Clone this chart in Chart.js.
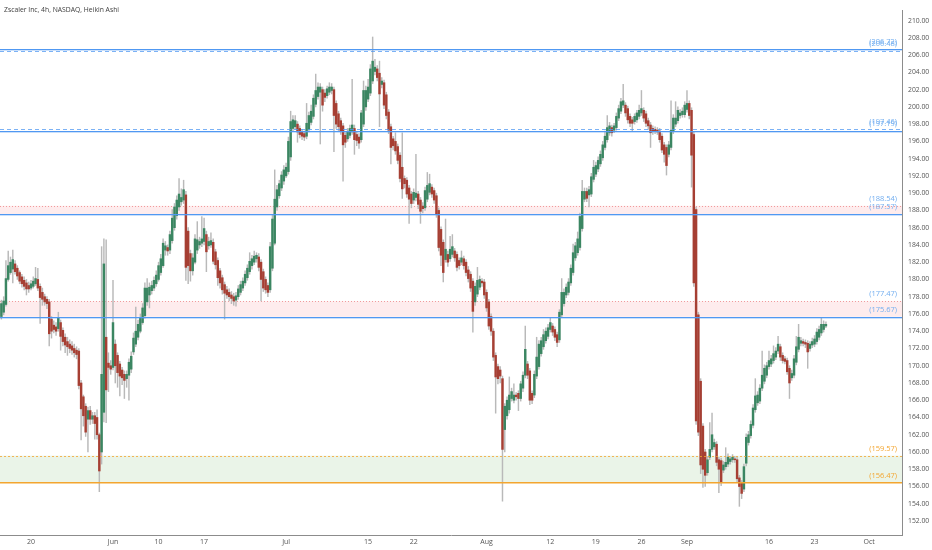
<!DOCTYPE html>
<html>
<head>
<meta charset="utf-8">
<title>Zscaler Inc, 4h, NASDAQ, Heikin Ashi</title>
<script src="https://cdn.jsdelivr.net/npm/chart.js@4.4.1/dist/chart.umd.min.js"></script>
<style>
  html, body { margin: 0; padding: 0; background: #fff; }
  #wrap { width: 932px; height: 550px; }
</style>
</head>
<body>
<div id="wrap"><canvas id="haChart" width="932" height="550"></canvas></div>
<script>
// Heikin Ashi 4h bars (4 bars per session incl. extended hours), oldest first
const opens = [
  175.7,176.2,177.1,180.0,180.8,181.2,181.8,181.3,180.8,180.3,
  179.9,179.6,179.3,179.0,179.2,179.5,180.0,179.2,178.5,178.0,
  177.7,177.4,175.4,174.7,174.5,174.3,175.0,174.1,173.3,172.8,
  172.5,172.3,172.0,171.8,171.7,168.0,166.4,165.3,163.8,164.8,
  163.8,164.2,164.0,162.0,160.0,164.6,173.3,170.3,170.0,169.8,
  172.5,171.2,170.2,169.5,169.0,168.5,168.9,169.6,171.6,172.5,
  173.3,174.0,175.0,175.8,177.4,178.2,178.7,179.0,179.5,180.0,
  180.8,181.6,183.4,183.7,183.4,184.5,186.0,187.4,188.4,189.0,
  189.2,189.8,185.6,183.0,181.0,182.0,183.4,184.0,184.2,184.4,
  185.2,183.9,184.0,184.3,183.2,182.2,181.0,180.2,179.4,178.8,
  178.5,178.2,178.0,177.6,178.0,178.5,179.0,179.6,180.2,180.9,
  181.6,182.0,182.4,182.6,182.0,180.9,180.0,179.3,178.8,181.3,
  184.2,188.4,189.7,190.6,191.4,192.0,192.5,194.2,197.5,197.7,
  198.0,197.5,197.1,196.9,196.6,197.4,198.2,198.9,200.3,201.2,
  201.7,202.0,201.6,201.3,201.7,201.9,202.0,200.4,199.2,198.4,
  197.8,196.7,196.3,196.7,197.1,197.5,196.8,196.5,196.2,198.0,
  200.0,200.9,201.6,203.0,204.1,204.4,203.9,202.6,202.8,201.4,
  199.4,197.7,196.3,196.0,195.4,194.4,193.0,191.7,191.5,190.6,
  189.9,189.2,189.5,189.9,189.2,188.5,188.3,189.3,190.1,190.7,
  190.3,189.7,188.0,185.8,184.3,182.3,182.9,182.4,182.9,183.3,
  182.9,182.2,182.0,182.4,182.0,181.1,180.6,179.8,177.4,178.3,
  179.1,179.8,179.7,178.5,177.4,175.7,174.0,171.2,169.9,169.5,
  168.5,162.6,164.2,164.9,166.2,166.0,166.6,166.8,166.2,167.4,
  168.9,170.2,169.4,166.8,166.6,168.8,169.9,171.4,172.2,172.9,
  173.4,174.2,174.6,174.2,173.6,173.0,175.9,177.2,178.2,178.5,
  179.6,180.8,182.5,183.1,183.7,185.9,189.3,190.2,189.8,189.9,
  191.6,192.2,192.8,193.4,194.1,195.3,196.2,197.0,197.6,197.3,
  197.6,198.7,199.5,200.2,200.2,199.8,198.9,198.5,198.3,198.5,
  198.9,199.3,199.6,199.2,198.4,197.9,197.5,197.4,197.3,197.2,
  196.6,195.6,195.3,194.5,195.3,197.2,198.0,198.4,199.0,199.1,
  199.1,199.7,200.4,199.6,196.8,188.1,175.9,168.2,163.0,160.0,
  157.6,159.4,160.3,160.6,160.9,159.1,159.0,157.9,158.3,158.6,
  158.9,159.1,159.2,159.1,157.0,156.4,155.7,158.7,161.1,161.9,
  163.1,164.9,165.7,165.9,167.4,168.2,168.9,169.9,170.2,170.6,
  171.0,171.7,172.2,171.2,170.8,170.6,169.7,168.6,168.9,170.4,
  171.9,172.6,172.8,172.7,172.6,172.0,172.4,172.5,172.8,173.3,
  173.8,174.2,174.6
];
const highs = [
  177.6,178.0,182.2,183.3,182.6,183.4,182.2,181.6,181.0,180.6,
  180.3,180.0,179.7,179.9,180.3,181.4,181.3,179.5,179.0,178.3,
  178.0,177.7,175.7,175.2,175.0,176.2,175.3,174.4,173.7,173.3,
  173.0,172.8,172.5,172.2,172.0,168.3,166.6,165.6,165.2,165.3,
  164.6,164.6,164.9,162.2,183.8,184.7,184.6,171.5,170.6,179.9,
  173.0,171.5,170.5,169.8,169.4,169.4,170.8,171.6,173.8,176.8,
  175.3,176.0,177.2,179.6,180.1,179.6,179.8,180.3,181.0,182.0,
  182.9,184.7,184.4,184.0,185.6,188.1,188.8,189.7,191.7,190.5,
  191.5,190.2,186.0,183.4,183.0,185.2,186.7,184.9,187.3,187.1,
  185.6,184.9,185.4,184.7,183.5,182.5,181.3,180.5,179.7,179.2,
  178.9,178.6,178.4,178.5,179.3,179.8,180.2,181.0,181.7,183.1,
  182.8,183.3,183.1,183.0,182.3,181.2,180.3,179.6,184.3,187.5,
  192.7,190.9,191.5,192.5,193.2,193.5,196.5,199.5,199.0,199.0,
  198.3,197.8,197.4,197.2,200.4,199.4,200.2,201.4,203.8,202.8,
  202.7,202.3,202.0,202.4,202.8,202.7,202.3,200.7,199.5,198.7,
  198.1,197.0,197.5,197.9,203.2,197.9,197.1,196.9,199.6,203.0,
  202.4,203.2,204.9,208.1,205.5,204.8,205.3,203.4,203.1,201.7,
  199.7,198.0,196.6,197.0,195.7,194.7,197.0,192.0,191.8,190.9,
  190.2,190.5,194.5,190.2,189.5,188.9,190.7,192.4,192.2,191.0,
  190.6,190.0,188.3,186.1,184.6,187.0,183.3,185.0,185.2,183.6,
  183.2,182.5,183.3,182.7,182.3,181.5,180.9,180.1,179.6,181.4,
  180.4,180.1,180.0,178.8,177.7,176.0,174.3,171.5,170.2,169.9,
  168.8,165.6,166.4,168.7,167.4,167.9,166.9,167.1,168.2,169.3,
  174.6,170.5,169.7,167.1,169.4,173.3,172.9,173.3,174.2,174.4,
  174.8,175.6,174.9,174.5,173.9,176.5,180.1,178.9,179.5,180.1,
  181.7,184.1,184.3,185.5,187.7,191.5,190.6,190.6,190.8,192.3,
  193.8,193.6,194.2,194.9,196.0,197.2,199.0,198.2,197.9,198.1,
  199.3,200.2,201.0,202.6,200.5,200.1,199.2,198.8,199.2,199.6,
  200.2,201.9,199.9,199.5,198.7,198.2,197.8,197.7,197.6,197.5,
  196.9,195.9,195.6,196.0,200.7,199.1,200.6,200.0,199.7,199.9,
  200.6,201.9,200.7,199.9,197.1,188.4,176.2,168.5,163.3,160.3,
  159.5,163.4,164.5,161.5,161.2,159.4,159.3,158.9,160.5,159.8,
  159.5,159.7,159.5,159.4,157.3,156.7,158.6,162.1,162.4,163.6,
  165.5,168.5,167.0,167.8,171.7,170.1,170.4,171.7,171.2,172.3,
  172.1,173.4,172.5,171.5,171.1,170.9,170.0,169.5,171.2,173.4,
  174.8,173.3,173.1,173.0,172.9,172.8,173.2,173.5,174.3,174.6,
  175.6,175.2,175.1
];
const lows = [
  175.4,175.9,176.9,179.8,180.6,179.6,180.6,180.0,179.5,179.1,
  178.8,178.2,178.5,178.8,179.0,179.3,178.7,174.9,177.0,177.0,
  176.6,172.3,173.2,173.8,173.5,174.0,171.8,172.3,171.5,171.2,
  171.5,171.3,171.0,170.8,167.3,161.4,163.0,161.8,160.0,163.2,
  163.3,161.5,161.5,155.4,158.6,163.5,163.4,167.0,169.0,169.5,
  168.0,167.5,166.5,167.8,166.2,167.5,166.0,169.2,171.3,172.2,
  173.0,173.8,174.8,175.5,177.0,176.7,178.3,178.7,179.2,179.8,
  180.5,181.4,182.8,182.8,183.0,184.2,185.7,187.0,188.0,188.6,
  188.8,179.9,179.5,179.8,180.5,181.8,183.0,183.6,183.8,184.0,
  180.9,183.5,183.7,181.8,181.2,179.3,179.0,178.3,175.4,177.8,
  177.5,177.2,177.0,176.9,177.7,178.2,178.7,179.3,179.9,180.6,
  181.2,181.7,182.0,181.0,177.5,178.6,178.4,178.0,178.5,181.0,
  184.0,188.0,189.4,190.3,191.0,191.8,192.2,193.8,197.2,197.4,
  195.9,196.4,196.2,196.1,196.3,197.1,197.9,198.6,200.0,200.9,
  195.7,199.5,200.6,201.0,201.4,201.5,194.8,197.5,197.2,196.8,
  191.4,195.3,196.0,196.4,196.8,194.5,195.5,195.2,195.9,197.7,
  199.6,200.6,201.3,202.7,203.7,203.0,197.7,202.2,199.8,198.6,
  196.9,193.4,195.0,194.5,193.4,191.3,189.4,190.6,189.5,186.5,
  188.3,188.8,189.1,188.2,186.5,187.7,188.0,189.0,189.8,189.5,
  188.8,187.2,183.3,181.6,179.7,182.0,181.5,182.1,182.6,182.1,
  181.0,181.2,181.7,181.2,180.4,179.7,178.6,173.9,177.0,178.0,
  178.8,179.2,177.8,176.3,174.2,173.5,170.6,164.5,167.9,168.0,
  154.3,160.0,163.8,164.5,165.9,165.7,166.0,164.8,165.9,167.0,
  168.6,168.5,165.5,165.6,166.3,168.5,169.6,171.1,171.9,172.6,
  173.1,173.9,173.5,172.9,172.2,172.7,175.6,176.9,177.9,178.2,
  179.3,180.5,182.2,182.8,183.4,185.6,189.0,189.0,188.4,189.6,
  191.3,191.9,192.5,193.1,193.8,195.0,195.9,196.7,196.6,197.0,
  197.3,198.4,199.2,199.9,198.9,198.1,197.7,197.2,198.0,198.2,
  198.6,199.0,198.3,197.7,197.4,195.3,196.8,196.9,196.8,195.9,
  194.7,193.6,192.1,194.2,195.0,196.9,197.7,198.1,198.7,198.8,
  198.8,199.4,198.6,190.7,179.2,163.2,161.9,157.5,155.9,156.0,
  157.3,159.1,160.0,160.3,158.4,155.3,156.1,157.6,158.0,158.3,
  158.6,158.8,158.8,156.5,153.7,154.6,155.4,158.4,160.8,161.6,
  162.8,164.6,165.4,165.6,167.1,167.9,168.6,169.6,169.9,170.3,
  170.7,171.4,170.6,170.3,170.2,169.0,166.2,168.3,168.6,170.1,
  171.6,172.3,172.3,172.1,169.7,171.7,172.1,172.2,172.5,173.0,
  173.5,173.9,174.4
];
const closes = [
  177.2,177.5,180.1,181.6,182.0,182.3,180.9,180.4,179.8,179.5,
  179.2,178.9,178.9,179.5,179.8,180.1,179.0,177.9,177.7,177.4,
  177.2,173.7,174.0,174.2,174.0,175.5,173.4,172.8,172.4,172.2,
  172.0,171.8,171.5,171.3,167.7,165.0,164.2,162.3,164.8,163.8,
  164.2,163.3,162.0,157.8,169.0,181.8,167.2,169.8,169.6,175.0,
  170.0,169.2,168.8,168.6,168.3,169.0,170.4,171.1,173.2,174.0,
  174.8,175.6,176.7,179.0,179.0,179.1,179.3,179.9,180.5,181.6,
  182.4,184.2,183.9,183.3,185.2,187.1,188.4,189.2,189.9,189.5,
  190.4,181.4,181.6,181.0,182.5,184.7,184.6,184.4,184.7,185.9,
  183.2,184.4,184.5,182.1,181.7,180.2,179.6,178.8,178.4,178.2,
  178.0,177.8,177.5,178.1,178.9,179.4,179.8,180.6,181.3,182.1,
  182.4,182.7,182.8,181.4,180.0,179.0,178.8,178.5,183.8,187.0,
  189.3,190.4,191.1,192.1,192.7,193.0,196.0,198.3,198.5,198.4,
  197.1,196.8,196.6,196.5,198.1,199.0,199.5,201.0,201.9,202.3,
  202.3,200.2,201.1,202.1,202.3,202.3,199.0,198.0,197.7,197.2,
  195.6,195.9,197.1,197.5,197.9,196.2,196.1,195.8,199.3,201.9,
  201.9,202.3,204.4,205.3,204.6,203.4,201.5,203.0,200.2,199.0,
  197.3,195.3,195.5,194.9,193.8,191.7,190.5,191.1,189.9,189.3,
  188.8,190.1,190.0,188.7,187.9,188.2,190.3,190.9,191.1,189.9,
  189.2,187.6,183.7,182.8,180.8,183.5,182.0,183.5,183.8,182.5,
  181.4,181.6,182.5,181.6,180.8,180.1,179.0,176.3,179.2,179.9,
  180.0,179.6,178.2,176.7,174.6,174.0,171.0,168.7,168.5,168.8,
  160.3,165.3,166.0,166.6,167.0,166.6,166.4,166.2,167.9,168.9,
  171.9,168.9,166.0,166.0,169.0,171.0,172.5,172.9,173.6,174.0,
  174.4,175.0,173.9,173.3,172.7,176.2,178.5,178.5,179.1,179.7,
  181.3,183.1,183.9,184.7,187.3,190.2,190.2,189.4,190.4,191.9,
  193.0,193.2,193.8,194.5,195.6,196.6,197.6,197.8,197.0,197.8,
  198.9,199.8,200.6,200.7,199.3,198.5,198.1,198.1,198.9,199.3,
  199.6,199.8,198.7,198.1,197.8,197.0,197.2,197.2,197.1,196.2,
  195.0,194.5,193.2,195.6,197.3,198.7,198.7,199.6,199.3,199.5,
  200.2,200.4,199.0,194.4,179.6,163.6,162.3,158.5,158.0,157.3,
  159.1,160.3,162.0,161.1,158.8,158.0,156.5,158.5,158.8,159.4,
  159.2,159.4,159.1,156.9,156.0,155.2,158.3,161.7,162.0,163.2,
  165.1,166.5,166.6,167.4,168.9,169.7,170.0,170.6,170.8,171.4,
  171.7,172.5,171.0,170.6,170.5,169.3,168.0,169.1,170.8,172.2,
  173.3,172.9,172.6,172.5,171.6,172.5,172.8,173.1,173.9,174.2,
  174.8,174.8,174.8
];

// date labels on the time axis (bar index where the day starts)
const dateTickBars = [13, 49, 69, 89, 125, 161, 181, 213, 241, 261, 281, 301, 337, 357, 381];
const dateTickLabels = ['20', 'Jun', '10', '17', 'Jul', '15', '22', 'Aug', '12', '19', '26', 'Sep', '16', '23', 'Oct'];
const priceTicks = [152, 154, 156, 158, 160, 162, 164, 166, 168, 170, 172, 174, 176, 178, 180,
  182, 184, 186, 188, 190, 192, 194, 196, 198, 200, 202, 204, 206, 208, 210];

// drawn levels
const solidLevels = [206.72, 197.19, 187.57, 175.67];
const dashedLevels = [206.48, 197.46];
const resistanceZones = [[187.57, 188.54], [175.67, 177.47]];
const supportZone = [156.47, 159.57];
const levelLabels = [206.72, 206.48, 197.46, 197.19, 188.54, 187.57, 177.47, 175.67];
const supportLabels = [159.57, 156.47];

const UP = '#3b8662';
const DOWN = '#a63f33';
const WICK = '#b9b9b9';
const BLUE = 'rgb(80, 152, 242)';
const ORANGE = 'rgb(243, 165, 47)';

const bodies = opens.map((o, i) => ({ x: i, y: [Math.min(o, closes[i]), Math.max(o, closes[i])] }));
const wicks = opens.map((o, i) => ({ x: i, y: [lows[i], highs[i]] }));
const bodyColors = opens.map((o, i) => (closes[i] >= o ? UP : DOWN));

// horizontal 1px line drawn as a filled rect, optionally dashed
function hLine(ctx, a, py, color, dash, gap) {
  ctx.fillStyle = color;
  const row = Math.round(py);
  if (!dash) {
    ctx.fillRect(a.left, row, a.right - a.left, 1);
    return;
  }
  for (let x = a.left; x < a.right; x += dash + gap) {
    ctx.fillRect(x, row, Math.min(dash, a.right - x), 1);
  }
}

const levelsPlugin = {
  id: 'levels',
  beforeDatasetsDraw(chart) {
    const { ctx, chartArea: a, scales: { y } } = chart;
    ctx.save();
    // pink resistance zones
    resistanceZones.forEach(([lo, hi]) => {
      ctx.fillStyle = 'rgba(242, 80, 90, 0.11)';
      ctx.fillRect(a.left, y.getPixelForValue(hi), a.right - a.left, y.getPixelForValue(lo) - y.getPixelForValue(hi));
      hLine(ctx, a, y.getPixelForValue(hi), 'rgba(235, 120, 120, 0.7)', 1, 2);
    });
    // green support zone
    const top = y.getPixelForValue(supportZone[1]);
    const bot = y.getPixelForValue(supportZone[0]);
    ctx.fillStyle = 'rgba(90, 170, 80, 0.13)';
    ctx.fillRect(a.left, top, a.right - a.left, bot - top);
    ctx.restore();
  },
  afterDatasetsDraw(chart) {
    const { ctx, chartArea: a, scales: { y } } = chart;
    ctx.save();
    solidLevels.forEach(v => {
      hLine(ctx, a, y.getPixelForValue(v), BLUE);
      hLine(ctx, a, y.getPixelForValue(v) + 1, 'rgba(80, 152, 242, 0.3)');
    });
    dashedLevels.forEach(v => hLine(ctx, a, y.getPixelForValue(v), 'rgba(80, 152, 242, 0.75)', 4, 3));
    // orange support lines
    hLine(ctx, a, y.getPixelForValue(supportZone[1]), 'rgba(243, 165, 47, 0.8)', 2, 2);
    hLine(ctx, a, y.getPixelForValue(supportZone[0]), ORANGE);
    hLine(ctx, a, y.getPixelForValue(supportZone[0]) + 1, 'rgba(243, 165, 47, 0.5)');

    // level labels
    ctx.font = '7.5px "Open Sans", sans-serif';
    ctx.textAlign = 'right';
    ctx.textBaseline = 'middle';
    ctx.fillStyle = '#72aef0';
    levelLabels.forEach(v => {
      ctx.fillText('(' + v.toFixed(2) + ')', a.right - 5, y.getPixelForValue(v) - 7);
    });
    ctx.fillStyle = ORANGE;
    supportLabels.forEach(v => {
      ctx.fillText('(' + v.toFixed(2) + ')', a.right - 5, y.getPixelForValue(v) - 7);
    });

    // title
    ctx.textAlign = 'left';
    ctx.fillStyle = '#3c3c3c';
    ctx.font = '6.8px "Open Sans", sans-serif';
    ctx.fillText('Zscaler Inc, 4h, NASDAQ, Heikin Ashi', 4, 10);
    ctx.restore();
  }
};

new Chart(document.getElementById('haChart'), {
  type: 'bar',
  data: {
    datasets: [{
      label: 'Body',
      data: bodies,
      backgroundColor: bodyColors,
      barThickness: 1.8,
      grouped: false
    }, {
      label: 'Wick',
      data: wicks,
      backgroundColor: WICK,
      barThickness: 0.8,
      grouped: false
    }]
  },
  options: {
    responsive: false,
    animation: false,
    layout: { padding: 0 },
    plugins: {
      legend: { display: false },
      tooltip: { enabled: false }
    },
    scales: {
      x: {
        type: 'linear',
        offset: false,
        min: -0.61,
        max: 395.4,
        grid: { display: false, drawTicks: false },
        border: { display: true, color: '#8c8c8c' },
        afterBuildTicks: (scale) => { scale.ticks = dateTickBars.map(v => ({ value: v })); },
        afterFit: (scale) => { scale.height = 15; },
        ticks: {
          autoSkip: false,
          maxRotation: 0,
          padding: 3,
          color: '#555',
          font: { size: 7, family: '"Open Sans", sans-serif' },
          callback: (v, i) => dateTickLabels[i]
        }
      },
      y: {
        position: 'right',
        min: 150.38,
        max: 211.22,
        grid: { display: false, drawTicks: false },
        border: { display: true, color: '#8c8c8c' },
        afterBuildTicks: (scale) => { scale.ticks = priceTicks.map(v => ({ value: v })); },
        afterFit: (scale) => { scale.width = 30; },
        ticks: {
          padding: 6,
          color: '#555',
          font: { size: 6.8, family: '"Open Sans", sans-serif' },
          callback: (v) => Number(v).toFixed(2)
        }
      }
    }
  },
  plugins: [levelsPlugin]
});
</script>
</body>
</html>
